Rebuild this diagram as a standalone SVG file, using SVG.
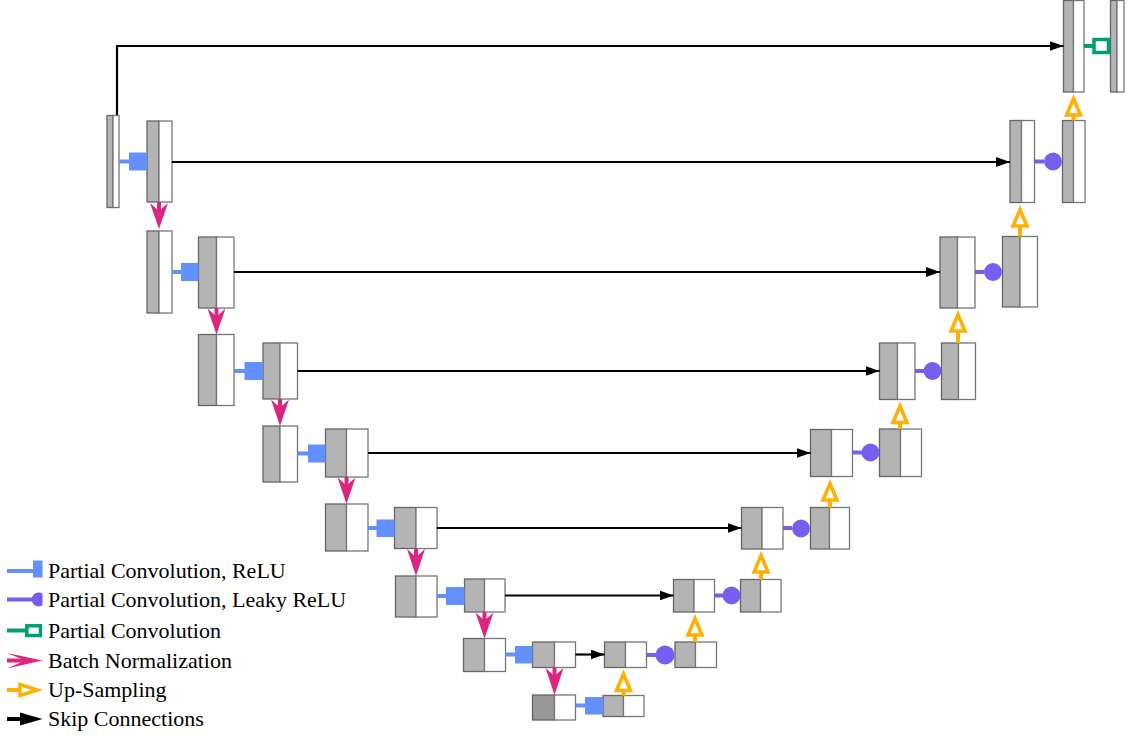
<svg xmlns="http://www.w3.org/2000/svg" width="1134" height="738" viewBox="0 0 1134 738">
  <defs>
    <style>
      .g { fill: #b4b4b4; stroke: #666; stroke-width: 1.3; }
      .gd { fill: #999; stroke: #666; stroke-width: 1.3; }
      .w { fill: #fff; stroke: #777; stroke-width: 1.3; }
      .skip { fill: none; stroke: #000; stroke-width: 2.2; marker-end: url(#arrow); }
      .relu-l { stroke: #648fff; stroke-width: 4; }
      .relu-s { fill: #648fff; }
      .leaky-l { stroke: #785ef0; stroke-width: 4; }
      .leaky-c { fill: #785ef0; }
      .pc-l { stroke: #009e73; stroke-width: 4; }
      .pc-s { fill: #fff; stroke: #009e73; stroke-width: 3.5; }
      .bn-l { stroke: #dc267f; stroke-width: 4; }
      .bn-h { fill: #dc267f; }
      .up-l { stroke: #ffb000; stroke-width: 4; }
      .up-h { fill: #fff; stroke: #ffb000; stroke-width: 3.5; stroke-linejoin: miter; }
      .lbl { font-family: "Liberation Serif", "Times New Roman", serif; font-size: 22px; fill: #000; }
    </style>
    <marker id="arrow" markerUnits="userSpaceOnUse" markerWidth="14" markerHeight="10" refX="14" refY="5" orient="auto">
      <path d="M0,0 L14,5 L0,10 z" fill="#000"/>
    </marker>
    <clipPath id="legclip">
      <rect x="0" y="550" width="42.5" height="188"/>
    </clipPath>
  </defs>

  <!-- encoder -->
  <g id="input"><rect class="g" x="107" y="115.5" width="6" height="92"/><rect class="w" x="113" y="115.5" width="6" height="92"/></g>
  <g id="enc1a"><rect class="g" x="147" y="121" width="12" height="81"/><rect class="w" x="159" y="121" width="13" height="81"/></g>
  <g id="enc1b"><rect class="g" x="147" y="231" width="12" height="82"/><rect class="w" x="159" y="231" width="13" height="82"/></g>
  <g id="enc2a"><rect class="g" x="198.5" y="237" width="18" height="71"/><rect class="w" x="216.5" y="237" width="17.5" height="71"/></g>
  <g id="enc2b"><rect class="g" x="198.5" y="334.5" width="18" height="71"/><rect class="w" x="216.5" y="334.5" width="17.5" height="71"/></g>
  <g id="enc3a"><rect class="g" x="263" y="343" width="17" height="56"/><rect class="w" x="280" y="343" width="17.5" height="56"/></g>
  <g id="enc3b"><rect class="g" x="263" y="426" width="17" height="56"/><rect class="w" x="280" y="426" width="17.5" height="56"/></g>
  <g id="enc4a"><rect class="g" x="325.5" y="429" width="21" height="48"/><rect class="w" x="346.5" y="429" width="21.5" height="48"/></g>
  <g id="enc4b"><rect class="g" x="325.5" y="504" width="21" height="47"/><rect class="w" x="346.5" y="504" width="21.5" height="47"/></g>
  <g id="enc5a"><rect class="g" x="394.5" y="507.5" width="21.5" height="41"/><rect class="w" x="416" y="507.5" width="21" height="41"/></g>
  <g id="enc5b"><rect class="g" x="395.5" y="576" width="20.5" height="41"/><rect class="w" x="416" y="576" width="21" height="41"/></g>
  <g id="enc6a"><rect class="g" x="464.5" y="579" width="20" height="33"/><rect class="w" x="484.5" y="579" width="20.5" height="33"/></g>
  <g id="enc6b"><rect class="g" x="463.5" y="638.5" width="21" height="33"/><rect class="w" x="484.5" y="638.5" width="21" height="33"/></g>
  <g id="enc7"><rect class="g" x="532.5" y="642" width="22" height="25.5"/><rect class="w" x="554.5" y="642" width="21" height="25.5"/></g>
  <g id="bottleneck"><rect class="gd" x="532.5" y="695" width="22" height="25"/><rect class="w" x="554.5" y="695" width="21" height="25"/></g>

  <!-- decoder -->
  <g id="dec8"><rect class="g" x="603" y="695.5" width="20.5" height="21"/><rect class="w" x="623.5" y="695.5" width="20.5" height="21"/></g>
  <g id="dec7a"><rect class="g" x="604.5" y="642" width="21" height="25.5"/><rect class="w" x="625.5" y="642" width="21" height="25.5"/></g>
  <g id="dec7b"><rect class="g" x="675" y="642" width="20.5" height="25.5"/><rect class="w" x="695.5" y="642" width="21" height="25.5"/></g>
  <g id="dec6a"><rect class="g" x="673.5" y="579.5" width="20.5" height="32.5"/><rect class="w" x="694" y="579.5" width="20.5" height="32.5"/></g>
  <g id="dec6b"><rect class="g" x="740.5" y="579.5" width="20" height="32.5"/><rect class="w" x="760.5" y="579.5" width="20.5" height="32.5"/></g>
  <g id="dec5a"><rect class="g" x="741.5" y="507.5" width="20.5" height="41.5"/><rect class="w" x="762" y="507.5" width="21" height="41.5"/></g>
  <g id="dec5b"><rect class="g" x="810.5" y="507.5" width="19" height="41.5"/><rect class="w" x="829.5" y="507.5" width="20" height="41.5"/></g>
  <g id="dec4a"><rect class="g" x="810.5" y="429.5" width="21" height="47"/><rect class="w" x="831.5" y="429.5" width="21" height="47"/></g>
  <g id="dec4b"><rect class="g" x="879.5" y="429" width="21" height="47.5"/><rect class="w" x="900.5" y="429" width="21" height="47.5"/></g>
  <g id="dec3a"><rect class="g" x="879.5" y="343" width="18" height="56.5"/><rect class="w" x="897.5" y="343" width="17.5" height="56.5"/></g>
  <g id="dec3b"><rect class="g" x="941.5" y="343" width="17" height="56.5"/><rect class="w" x="958.5" y="343" width="17" height="56.5"/></g>
  <g id="dec2a"><rect class="g" x="940" y="237" width="17.5" height="71"/><rect class="w" x="957.5" y="237" width="17.5" height="71"/></g>
  <g id="dec2b"><rect class="g" x="1002.5" y="236.5" width="17.5" height="70.5"/><rect class="w" x="1020" y="236.5" width="17.5" height="70.5"/></g>
  <g id="dec1a"><rect class="g" x="1010" y="120.5" width="11.5" height="82"/><rect class="w" x="1021.5" y="120.5" width="13" height="82"/></g>
  <g id="dec1b"><rect class="g" x="1062.5" y="120.5" width="11" height="82"/><rect class="w" x="1073.5" y="120.5" width="11.5" height="82"/></g>
  <g id="dec0"><rect class="g" x="1063.5" y="0.5" width="10" height="91.5"/><rect class="w" x="1073.5" y="0.5" width="10.5" height="91.5"/></g>
  <g id="output"><rect class="g" x="1110.5" y="0.5" width="6.5" height="91.5"/><rect class="w" x="1117" y="0.5" width="7" height="91.5"/></g>

  <g id="connectors">
    <!-- skip connections -->
    <path class="skip" d="M117,115 V46 H1063.5"/>
    <path class="skip" d="M172,162 H1010"/>
    <path class="skip" d="M234,272 H940"/>
    <path class="skip" d="M297.5,371 H879.5"/>
    <path class="skip" d="M368,453 H810.5"/>
    <path class="skip" d="M437,528 H741.5"/>
    <path class="skip" d="M505,595.5 H673.5"/>
    <path class="skip" d="M575.5,654.5 H604.5"/>

    <!-- partial convolution + ReLU -->
    <line class="relu-l" x1="119" y1="161.5" x2="130" y2="161.5"/><rect class="relu-s" x="129" y="152.5" width="18" height="18"/>
    <line class="relu-l" x1="172" y1="272" x2="182" y2="272"/><rect class="relu-s" x="181" y="263" width="17.5" height="18"/>
    <line class="relu-l" x1="234" y1="371" x2="245" y2="371"/><rect class="relu-s" x="244.5" y="362" width="18.5" height="18"/>
    <line class="relu-l" x1="297.5" y1="453.5" x2="309" y2="453.5"/><rect class="relu-s" x="308" y="444.5" width="17.5" height="18"/>
    <line class="relu-l" x1="368" y1="528" x2="377" y2="528"/><rect class="relu-s" x="376.5" y="519.5" width="18" height="17.5"/>
    <line class="relu-l" x1="437" y1="596" x2="447" y2="596"/><rect class="relu-s" x="446" y="587" width="18.5" height="18"/>
    <line class="relu-l" x1="505.5" y1="654.5" x2="516" y2="654.5"/><rect class="relu-s" x="515" y="646" width="17.5" height="17.5"/>
    <line class="relu-l" x1="575.5" y1="705.5" x2="586" y2="705.5"/><rect class="relu-s" x="585" y="697" width="18" height="17.5"/>

    <!-- partial convolution + leaky ReLU -->
    <line class="leaky-l" x1="646.5" y1="655" x2="656" y2="655"/><circle class="leaky-c" cx="665" cy="655" r="9.5"/>
    <line class="leaky-l" x1="714.5" y1="595.5" x2="723" y2="595.5"/><circle class="leaky-c" cx="731.5" cy="595.5" r="9"/>
    <line class="leaky-l" x1="783" y1="528" x2="792" y2="528"/><circle class="leaky-c" cx="801" cy="528.5" r="9"/>
    <line class="leaky-l" x1="852.5" y1="452.5" x2="862" y2="452.5"/><circle class="leaky-c" cx="870.5" cy="452.5" r="9"/>
    <line class="leaky-l" x1="915" y1="371" x2="924" y2="371"/><circle class="leaky-c" cx="932.5" cy="371" r="9"/>
    <line class="leaky-l" x1="975" y1="272" x2="984" y2="272"/><circle class="leaky-c" cx="993" cy="272" r="9"/>
    <line class="leaky-l" x1="1034.5" y1="161.5" x2="1044" y2="161.5"/><circle class="leaky-c" cx="1053" cy="161.5" r="9"/>

    <!-- partial convolution -->
    <line class="pc-l" x1="1084" y1="46" x2="1094" y2="46"/><rect class="pc-s" x="1094" y="39.5" width="14.5" height="13"/>

    <!-- batch normalization -->
    <line class="bn-l" x1="159" y1="202" x2="159" y2="222"/><path class="bn-h" d="M150,203 L159,211 L168,203 L159,229 z"/>
    <line class="bn-l" x1="216.5" y1="308" x2="216.5" y2="327"/><path class="bn-h" d="M207.5,308.5 L216.5,316.5 L225.5,308.5 L216.5,334.5 z"/>
    <line class="bn-l" x1="280" y1="399" x2="280" y2="419"/><path class="bn-h" d="M271,399.5 L280,407.5 L289,399.5 L280,426 z"/>
    <line class="bn-l" x1="346.5" y1="477" x2="346.5" y2="497"/><path class="bn-h" d="M337.5,477.5 L346.5,485.5 L355.5,477.5 L346.5,504 z"/>
    <line class="bn-l" x1="416" y1="548.5" x2="416" y2="569"/><path class="bn-h" d="M407,549 L416,557 L425,549 L416,576 z"/>
    <line class="bn-l" x1="484.5" y1="612" x2="484.5" y2="631"/><path class="bn-h" d="M475.5,612.5 L484.5,620.5 L493.5,612.5 L484.5,638.5 z"/>
    <line class="bn-l" x1="554.5" y1="667.5" x2="554.5" y2="688"/><path class="bn-h" d="M545.5,668 L554.5,676 L563.5,668 L554.5,695 z"/>

    <!-- up-sampling -->
    <line class="up-l" x1="623.5" y1="695.5" x2="623.5" y2="689"/><path class="up-h" d="M623.5,674 L630.5,690.5 L616.5,690.5 z"/>
    <line class="up-l" x1="695" y1="642" x2="695" y2="634"/><path class="up-h" d="M695,618.5 L702,635 L688,635 z"/>
    <line class="up-l" x1="761" y1="579.5" x2="761" y2="571"/><path class="up-h" d="M761,555.5 L768,572 L754,572 z"/>
    <line class="up-l" x1="830" y1="507.5" x2="830" y2="500"/><path class="up-h" d="M830,483.5 L837,500 L823,500 z"/>
    <line class="up-l" x1="900" y1="429" x2="900" y2="422"/><path class="up-h" d="M900,406 L907,422.5 L893,422.5 z"/>
    <line class="up-l" x1="958" y1="343" x2="958" y2="330"/><path class="up-h" d="M958,314.5 L965,331 L951,331 z"/>
    <line class="up-l" x1="1020" y1="236.5" x2="1020" y2="225"/><path class="up-h" d="M1020,209.5 L1027,226 L1013,226 z"/>
    <line class="up-l" x1="1073.5" y1="120.5" x2="1073.5" y2="114"/><path class="up-h" d="M1073.5,98.5 L1080.5,115 L1066.5,115 z"/>
  </g>

  <!-- legend -->
  <g id="legend">
    <g clip-path="url(#legclip)">
      <line class="relu-l" x1="7" y1="571" x2="34" y2="571"/><rect class="relu-s" x="33" y="560.5" width="17" height="17"/>
      <line class="leaky-l" x1="7" y1="599.5" x2="33" y2="599.5"/><circle class="leaky-c" cx="38.7" cy="599.5" r="7"/>
      <line class="pc-l" x1="7" y1="630.5" x2="27" y2="630.5"/><rect class="pc-s" x="26.8" y="625.8" width="13.7" height="9.7"/>
      <line class="bn-l" x1="7" y1="660.5" x2="30" y2="660.5"/><path class="bn-h" d="M7,653 L42.5,660.5 L7,668.5 L25,660.5 z"/>
      <line class="up-l" x1="7" y1="690" x2="21" y2="690"/><path class="up-h" d="M20,684.5 L37.5,690 L20,695.5 z"/>
      <line stroke="#000" stroke-width="4" x1="7" y1="719" x2="22" y2="719"/><path d="M20,712.5 L42.5,719 L20,725.5 z" fill="#000"/>
    </g>
    <text class="lbl" x="48" y="578">Partial Convolution, ReLU</text>
    <text class="lbl" x="48" y="607">Partial Convolution, Leaky ReLU</text>
    <text class="lbl" x="48" y="637.5">Partial Convolution</text>
    <text class="lbl" x="48" y="667.5">Batch Normalization</text>
    <text class="lbl" x="48" y="696.5">Up-Sampling</text>
    <text class="lbl" x="48" y="725.5">Skip Connections</text>
  </g>
</svg>
